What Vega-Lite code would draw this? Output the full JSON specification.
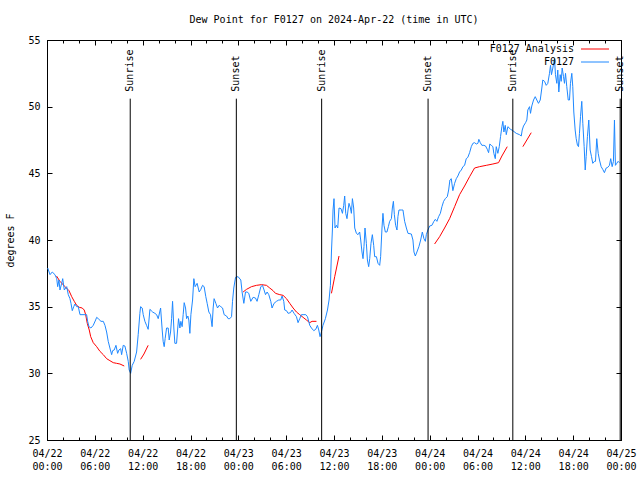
{
  "$schema": "https://vega.github.io/schema/vega-lite/v6.json",
  "width": 574,
  "height": 400,
  "autosize": "none",
  "padding": {"left": 47, "top": 40, "right": 19, "bottom": 40},
  "background": "white",
  "title": {"text": "Dew Point for F0127 on 2024-Apr-22 (time in UTC)", "font": "DejaVu Sans Mono", "fontSize": 10, "fontWeight": "normal", "offset": 10, "anchor": "middle", "color": "black"},
  "config": {
    "font": "DejaVu Sans Mono",
    "view": {"stroke": "black", "strokeWidth": 1},
    "axis": {"grid": false, "domainColor": "black", "domainWidth": 1, "tickColor": "black", "tickWidth": 1, "labelColor": "black", "labelFont": "DejaVu Sans Mono", "labelFontSize": 10, "titleFont": "DejaVu Sans Mono", "titleFontSize": 10, "titleFontWeight": "normal", "titleColor": "black", "labelFlush": false, "labelOverlap": false}
  },
  "datasets": {
    "red": [
      {"series": "F0127 Analysis", "seg": 1, "h": 1.19, "v": 37.3},
      {"series": "F0127 Analysis", "seg": 1, "h": 1.63, "v": 36.9},
      {"series": "F0127 Analysis", "seg": 1, "h": 2.26, "v": 36.5},
      {"series": "F0127 Analysis", "seg": 1, "h": 2.76, "v": 36.2},
      {"series": "F0127 Analysis", "seg": 1, "h": 3.1, "v": 35.75},
      {"series": "F0127 Analysis", "seg": 1, "h": 3.42, "v": 35.4},
      {"series": "F0127 Analysis", "seg": 1, "h": 3.72, "v": 35.1},
      {"series": "F0127 Analysis", "seg": 1, "h": 4.05, "v": 34.95},
      {"series": "F0127 Analysis", "seg": 1, "h": 4.42, "v": 34.9},
      {"series": "F0127 Analysis", "seg": 1, "h": 4.67, "v": 34.75},
      {"series": "F0127 Analysis", "seg": 1, "h": 4.85, "v": 34.4},
      {"series": "F0127 Analysis", "seg": 1, "h": 5.05, "v": 33.75},
      {"series": "F0127 Analysis", "seg": 1, "h": 5.3, "v": 33.25},
      {"series": "F0127 Analysis", "seg": 1, "h": 5.48, "v": 32.75},
      {"series": "F0127 Analysis", "seg": 1, "h": 5.8, "v": 32.3},
      {"series": "F0127 Analysis", "seg": 1, "h": 6.23, "v": 32.0},
      {"series": "F0127 Analysis", "seg": 1, "h": 6.64, "v": 31.65},
      {"series": "F0127 Analysis", "seg": 1, "h": 7.06, "v": 31.4},
      {"series": "F0127 Analysis", "seg": 1, "h": 7.48, "v": 31.1},
      {"series": "F0127 Analysis", "seg": 1, "h": 7.89, "v": 30.95},
      {"series": "F0127 Analysis", "seg": 1, "h": 8.31, "v": 30.8},
      {"series": "F0127 Analysis", "seg": 1, "h": 8.73, "v": 30.75},
      {"series": "F0127 Analysis", "seg": 1, "h": 9.15, "v": 30.7},
      {"series": "F0127 Analysis", "seg": 1, "h": 9.69, "v": 30.55},
      {"series": "F0127 Analysis", "seg": 2, "h": 11.74, "v": 31.05},
      {"series": "F0127 Analysis", "seg": 2, "h": 12.16, "v": 31.45},
      {"series": "F0127 Analysis", "seg": 2, "h": 12.69, "v": 32.1},
      {"series": "F0127 Analysis", "seg": 3, "h": 24.6, "v": 36.1},
      {"series": "F0127 Analysis", "seg": 3, "h": 25.03, "v": 36.3},
      {"series": "F0127 Analysis", "seg": 3, "h": 25.65, "v": 36.5},
      {"series": "F0127 Analysis", "seg": 3, "h": 26.28, "v": 36.6},
      {"series": "F0127 Analysis", "seg": 3, "h": 26.9, "v": 36.65},
      {"series": "F0127 Analysis", "seg": 3, "h": 27.53, "v": 36.6},
      {"series": "F0127 Analysis", "seg": 3, "h": 27.94, "v": 36.4},
      {"series": "F0127 Analysis", "seg": 3, "h": 28.36, "v": 36.2},
      {"series": "F0127 Analysis", "seg": 3, "h": 28.66, "v": 36.0},
      {"series": "F0127 Analysis", "seg": 3, "h": 29.2, "v": 35.9},
      {"series": "F0127 Analysis", "seg": 3, "h": 29.61, "v": 35.85},
      {"series": "F0127 Analysis", "seg": 3, "h": 30.04, "v": 35.6},
      {"series": "F0127 Analysis", "seg": 3, "h": 30.45, "v": 35.25},
      {"series": "F0127 Analysis", "seg": 3, "h": 30.87, "v": 34.9},
      {"series": "F0127 Analysis", "seg": 3, "h": 31.29, "v": 34.6},
      {"series": "F0127 Analysis", "seg": 3, "h": 31.7, "v": 34.4},
      {"series": "F0127 Analysis", "seg": 3, "h": 32.12, "v": 34.2},
      {"series": "F0127 Analysis", "seg": 3, "h": 32.54, "v": 34.0},
      {"series": "F0127 Analysis", "seg": 3, "h": 32.96, "v": 33.8},
      {"series": "F0127 Analysis", "seg": 3, "h": 33.25, "v": 33.9},
      {"series": "F0127 Analysis", "seg": 3, "h": 33.8, "v": 33.9},
      {"series": "F0127 Analysis", "seg": 4, "h": 35.68, "v": 36.0},
      {"series": "F0127 Analysis", "seg": 4, "h": 36.09, "v": 37.25},
      {"series": "F0127 Analysis", "seg": 4, "h": 36.63, "v": 38.8},
      {"series": "F0127 Analysis", "seg": 5, "h": 48.62, "v": 39.7},
      {"series": "F0127 Analysis", "seg": 5, "h": 49.25, "v": 40.25},
      {"series": "F0127 Analysis", "seg": 5, "h": 49.87, "v": 40.9},
      {"series": "F0127 Analysis", "seg": 5, "h": 50.5, "v": 41.6},
      {"series": "F0127 Analysis", "seg": 5, "h": 51.13, "v": 42.5},
      {"series": "F0127 Analysis", "seg": 5, "h": 51.75, "v": 43.4},
      {"series": "F0127 Analysis", "seg": 5, "h": 52.38, "v": 44.05},
      {"series": "F0127 Analysis", "seg": 5, "h": 53.01, "v": 44.75},
      {"series": "F0127 Analysis", "seg": 5, "h": 53.63, "v": 45.4},
      {"series": "F0127 Analysis", "seg": 5, "h": 54.26, "v": 45.5},
      {"series": "F0127 Analysis", "seg": 5, "h": 55.1, "v": 45.6},
      {"series": "F0127 Analysis", "seg": 5, "h": 55.93, "v": 45.7},
      {"series": "F0127 Analysis", "seg": 5, "h": 56.64, "v": 45.8},
      {"series": "F0127 Analysis", "seg": 5, "h": 57.06, "v": 46.3},
      {"series": "F0127 Analysis", "seg": 5, "h": 57.73, "v": 47.0},
      {"series": "F0127 Analysis", "seg": 6, "h": 59.69, "v": 47.0},
      {"series": "F0127 Analysis", "seg": 6, "h": 60.74, "v": 48.05}
    ],
    "blue": [
      {"series": "F0127", "h": 0.09, "v": 37.9},
      {"series": "F0127", "h": 0.38, "v": 37.4},
      {"series": "F0127", "h": 0.66, "v": 37.6},
      {"series": "F0127", "h": 1.0, "v": 37.4},
      {"series": "F0127", "h": 1.22, "v": 37.1},
      {"series": "F0127", "h": 1.34, "v": 36.5},
      {"series": "F0127", "h": 1.5, "v": 37.0},
      {"series": "F0127", "h": 1.63, "v": 36.25},
      {"series": "F0127", "h": 1.84, "v": 36.75},
      {"series": "F0127", "h": 1.97, "v": 37.1},
      {"series": "F0127", "h": 2.17, "v": 36.25},
      {"series": "F0127", "h": 2.34, "v": 36.4},
      {"series": "F0127", "h": 2.47, "v": 36.5},
      {"series": "F0127", "h": 2.67, "v": 35.9},
      {"series": "F0127", "h": 2.88, "v": 35.6},
      {"series": "F0127", "h": 3.01, "v": 35.25},
      {"series": "F0127", "h": 3.17, "v": 34.7},
      {"series": "F0127", "h": 3.35, "v": 35.0},
      {"series": "F0127", "h": 3.51, "v": 35.2},
      {"series": "F0127", "h": 3.72, "v": 35.0},
      {"series": "F0127", "h": 3.92, "v": 35.0},
      {"series": "F0127", "h": 4.14, "v": 34.4},
      {"series": "F0127", "h": 4.76, "v": 34.4},
      {"series": "F0127", "h": 4.97, "v": 34.4},
      {"series": "F0127", "h": 5.1, "v": 33.9},
      {"series": "F0127", "h": 5.26, "v": 33.5},
      {"series": "F0127", "h": 5.51, "v": 33.4},
      {"series": "F0127", "h": 5.8, "v": 33.6},
      {"series": "F0127", "h": 6.1, "v": 34.0},
      {"series": "F0127", "h": 6.23, "v": 34.2},
      {"series": "F0127", "h": 6.43, "v": 34.1},
      {"series": "F0127", "h": 6.77, "v": 33.9},
      {"series": "F0127", "h": 7.06, "v": 33.9},
      {"series": "F0127", "h": 7.27, "v": 33.6},
      {"series": "F0127", "h": 7.48, "v": 33.1},
      {"series": "F0127", "h": 7.68, "v": 32.4},
      {"series": "F0127", "h": 7.89, "v": 31.9},
      {"series": "F0127", "h": 8.11, "v": 31.4},
      {"series": "F0127", "h": 8.23, "v": 31.7},
      {"series": "F0127", "h": 8.43, "v": 31.75},
      {"series": "F0127", "h": 8.65, "v": 32.1},
      {"series": "F0127", "h": 8.86, "v": 31.5},
      {"series": "F0127", "h": 9.02, "v": 31.75},
      {"series": "F0127", "h": 9.24, "v": 31.85},
      {"series": "F0127", "h": 9.36, "v": 31.4},
      {"series": "F0127", "h": 9.56, "v": 32.1},
      {"series": "F0127", "h": 9.77, "v": 32.05},
      {"series": "F0127", "h": 9.99, "v": 31.5},
      {"series": "F0127", "h": 10.19, "v": 30.9},
      {"series": "F0127", "h": 10.31, "v": 30.25},
      {"series": "F0127", "h": 10.49, "v": 30.0},
      {"series": "F0127", "h": 10.69, "v": 30.6},
      {"series": "F0127", "h": 10.94, "v": 30.9},
      {"series": "F0127", "h": 11.24, "v": 31.6},
      {"series": "F0127", "h": 11.44, "v": 32.9},
      {"series": "F0127", "h": 11.65, "v": 34.5},
      {"series": "F0127", "h": 11.74, "v": 35.0},
      {"series": "F0127", "h": 11.94, "v": 34.9},
      {"series": "F0127", "h": 12.07, "v": 34.4},
      {"series": "F0127", "h": 12.28, "v": 33.9},
      {"series": "F0127", "h": 12.49, "v": 33.6},
      {"series": "F0127", "h": 12.69, "v": 33.3},
      {"series": "F0127", "h": 12.91, "v": 34.8},
      {"series": "F0127", "h": 13.25, "v": 34.6},
      {"series": "F0127", "h": 13.53, "v": 34.5},
      {"series": "F0127", "h": 13.75, "v": 34.4},
      {"series": "F0127", "h": 13.95, "v": 34.1},
      {"series": "F0127", "h": 14.25, "v": 34.9},
      {"series": "F0127", "h": 14.45, "v": 33.25},
      {"series": "F0127", "h": 14.57, "v": 32.4},
      {"series": "F0127", "h": 14.7, "v": 32.0},
      {"series": "F0127", "h": 14.82, "v": 32.6},
      {"series": "F0127", "h": 15.0, "v": 33.4},
      {"series": "F0127", "h": 15.2, "v": 33.4},
      {"series": "F0127", "h": 15.33, "v": 32.5},
      {"series": "F0127", "h": 15.5, "v": 33.1},
      {"series": "F0127", "h": 15.63, "v": 34.1},
      {"series": "F0127", "h": 15.75, "v": 35.4},
      {"series": "F0127", "h": 15.91, "v": 33.4},
      {"series": "F0127", "h": 16.04, "v": 32.25},
      {"series": "F0127", "h": 16.25, "v": 32.25},
      {"series": "F0127", "h": 16.38, "v": 33.25},
      {"series": "F0127", "h": 16.5, "v": 34.1},
      {"series": "F0127", "h": 16.67, "v": 33.4},
      {"series": "F0127", "h": 16.79, "v": 33.9},
      {"series": "F0127", "h": 16.95, "v": 33.5},
      {"series": "F0127", "h": 17.08, "v": 34.4},
      {"series": "F0127", "h": 17.21, "v": 35.3},
      {"series": "F0127", "h": 17.38, "v": 34.9},
      {"series": "F0127", "h": 17.51, "v": 34.1},
      {"series": "F0127", "h": 17.67, "v": 34.3},
      {"series": "F0127", "h": 17.79, "v": 34.0},
      {"series": "F0127", "h": 17.92, "v": 33.0},
      {"series": "F0127", "h": 18.05, "v": 34.4},
      {"series": "F0127", "h": 18.26, "v": 35.5},
      {"series": "F0127", "h": 18.42, "v": 37.1},
      {"series": "F0127", "h": 18.58, "v": 36.5},
      {"series": "F0127", "h": 18.83, "v": 36.75},
      {"series": "F0127", "h": 19.09, "v": 36.1},
      {"series": "F0127", "h": 19.3, "v": 36.3},
      {"series": "F0127", "h": 19.51, "v": 36.6},
      {"series": "F0127", "h": 19.71, "v": 36.5},
      {"series": "F0127", "h": 19.92, "v": 35.75},
      {"series": "F0127", "h": 20.09, "v": 35.25},
      {"series": "F0127", "h": 20.3, "v": 34.6},
      {"series": "F0127", "h": 20.51, "v": 34.4},
      {"series": "F0127", "h": 20.71, "v": 33.5},
      {"series": "F0127", "h": 20.84, "v": 34.9},
      {"series": "F0127", "h": 20.96, "v": 35.6},
      {"series": "F0127", "h": 21.18, "v": 35.25},
      {"series": "F0127", "h": 21.39, "v": 34.9},
      {"series": "F0127", "h": 21.59, "v": 35.1},
      {"series": "F0127", "h": 21.8, "v": 35.0},
      {"series": "F0127", "h": 22.02, "v": 34.9},
      {"series": "F0127", "h": 22.22, "v": 34.4},
      {"series": "F0127", "h": 22.52, "v": 34.3},
      {"series": "F0127", "h": 22.72, "v": 34.1},
      {"series": "F0127", "h": 22.93, "v": 34.1},
      {"series": "F0127", "h": 23.15, "v": 34.25},
      {"series": "F0127", "h": 23.27, "v": 35.4},
      {"series": "F0127", "h": 23.43, "v": 36.4},
      {"series": "F0127", "h": 23.65, "v": 37.2},
      {"series": "F0127", "h": 23.97, "v": 37.25},
      {"series": "F0127", "h": 24.31, "v": 37.0},
      {"series": "F0127", "h": 24.47, "v": 36.1},
      {"series": "F0127", "h": 24.69, "v": 35.25},
      {"series": "F0127", "h": 24.9, "v": 36.1},
      {"series": "F0127", "h": 25.1, "v": 36.1},
      {"series": "F0127", "h": 25.31, "v": 36.0},
      {"series": "F0127", "h": 25.56, "v": 35.4},
      {"series": "F0127", "h": 25.85, "v": 35.7},
      {"series": "F0127", "h": 26.15, "v": 35.65},
      {"series": "F0127", "h": 26.35, "v": 35.4},
      {"series": "F0127", "h": 26.57, "v": 35.9},
      {"series": "F0127", "h": 26.82, "v": 36.5},
      {"series": "F0127", "h": 27.03, "v": 36.6},
      {"series": "F0127", "h": 27.23, "v": 36.25},
      {"series": "F0127", "h": 27.41, "v": 35.9},
      {"series": "F0127", "h": 27.61, "v": 36.1},
      {"series": "F0127", "h": 27.82, "v": 35.9},
      {"series": "F0127", "h": 28.07, "v": 35.4},
      {"series": "F0127", "h": 28.23, "v": 34.9},
      {"series": "F0127", "h": 28.48, "v": 35.25},
      {"series": "F0127", "h": 28.78, "v": 35.4},
      {"series": "F0127", "h": 29.07, "v": 35.5},
      {"series": "F0127", "h": 29.32, "v": 35.5},
      {"series": "F0127", "h": 29.49, "v": 35.8},
      {"series": "F0127", "h": 29.7, "v": 35.4},
      {"series": "F0127", "h": 29.82, "v": 34.75},
      {"series": "F0127", "h": 30.04, "v": 34.7},
      {"series": "F0127", "h": 30.24, "v": 34.5},
      {"series": "F0127", "h": 30.54, "v": 34.55},
      {"series": "F0127", "h": 30.74, "v": 34.75},
      {"series": "F0127", "h": 30.99, "v": 34.5},
      {"series": "F0127", "h": 31.29, "v": 34.25},
      {"series": "F0127", "h": 31.49, "v": 33.8},
      {"series": "F0127", "h": 31.7, "v": 34.1},
      {"series": "F0127", "h": 31.92, "v": 34.4},
      {"series": "F0127", "h": 32.12, "v": 34.4},
      {"series": "F0127", "h": 32.46, "v": 34.4},
      {"series": "F0127", "h": 32.67, "v": 34.25},
      {"series": "F0127", "h": 32.83, "v": 33.9},
      {"series": "F0127", "h": 32.96, "v": 33.6},
      {"series": "F0127", "h": 33.17, "v": 33.4},
      {"series": "F0127", "h": 33.46, "v": 33.2},
      {"series": "F0127", "h": 33.71, "v": 33.3},
      {"series": "F0127", "h": 33.92, "v": 33.6},
      {"series": "F0127", "h": 34.09, "v": 33.25},
      {"series": "F0127", "h": 34.25, "v": 32.75},
      {"series": "F0127", "h": 34.42, "v": 33.1},
      {"series": "F0127", "h": 34.62, "v": 33.6},
      {"series": "F0127", "h": 34.92, "v": 34.1},
      {"series": "F0127", "h": 35.18, "v": 34.75},
      {"series": "F0127", "h": 35.38, "v": 35.5},
      {"series": "F0127", "h": 35.55, "v": 36.6},
      {"series": "F0127", "h": 35.68, "v": 39.1},
      {"series": "F0127", "h": 35.8, "v": 40.75},
      {"series": "F0127", "h": 35.88, "v": 42.25},
      {"series": "F0127", "h": 36.0, "v": 43.1},
      {"series": "F0127", "h": 36.13, "v": 40.9},
      {"series": "F0127", "h": 36.3, "v": 41.1},
      {"series": "F0127", "h": 36.47, "v": 40.9},
      {"series": "F0127", "h": 36.63, "v": 42.4},
      {"series": "F0127", "h": 36.88, "v": 42.35},
      {"series": "F0127", "h": 37.06, "v": 42.0},
      {"series": "F0127", "h": 37.22, "v": 42.6},
      {"series": "F0127", "h": 37.34, "v": 43.3},
      {"series": "F0127", "h": 37.47, "v": 42.0},
      {"series": "F0127", "h": 37.63, "v": 41.6},
      {"series": "F0127", "h": 37.76, "v": 42.25},
      {"series": "F0127", "h": 37.88, "v": 42.75},
      {"series": "F0127", "h": 38.06, "v": 42.4},
      {"series": "F0127", "h": 38.18, "v": 42.0},
      {"series": "F0127", "h": 38.31, "v": 43.1},
      {"series": "F0127", "h": 38.47, "v": 42.4},
      {"series": "F0127", "h": 38.6, "v": 40.9},
      {"series": "F0127", "h": 38.81, "v": 40.5},
      {"series": "F0127", "h": 39.01, "v": 40.4},
      {"series": "F0127", "h": 39.22, "v": 40.6},
      {"series": "F0127", "h": 39.35, "v": 40.0},
      {"series": "F0127", "h": 39.51, "v": 39.1},
      {"series": "F0127", "h": 39.64, "v": 38.6},
      {"series": "F0127", "h": 39.76, "v": 39.5},
      {"series": "F0127", "h": 39.89, "v": 40.9},
      {"series": "F0127", "h": 40.06, "v": 39.75},
      {"series": "F0127", "h": 40.19, "v": 38.5},
      {"series": "F0127", "h": 40.35, "v": 38.0},
      {"series": "F0127", "h": 40.48, "v": 38.6},
      {"series": "F0127", "h": 40.64, "v": 39.75},
      {"series": "F0127", "h": 40.81, "v": 40.4},
      {"series": "F0127", "h": 40.98, "v": 39.6},
      {"series": "F0127", "h": 41.1, "v": 38.75},
      {"series": "F0127", "h": 41.32, "v": 38.75},
      {"series": "F0127", "h": 41.52, "v": 38.25},
      {"series": "F0127", "h": 41.73, "v": 38.1},
      {"series": "F0127", "h": 41.85, "v": 38.75},
      {"series": "F0127", "h": 42.02, "v": 40.9},
      {"series": "F0127", "h": 42.14, "v": 42.0},
      {"series": "F0127", "h": 42.27, "v": 41.1},
      {"series": "F0127", "h": 42.44, "v": 40.6},
      {"series": "F0127", "h": 42.64, "v": 40.6},
      {"series": "F0127", "h": 42.82, "v": 41.0},
      {"series": "F0127", "h": 42.98, "v": 41.4},
      {"series": "F0127", "h": 43.2, "v": 41.6},
      {"series": "F0127", "h": 43.32, "v": 42.4},
      {"series": "F0127", "h": 43.45, "v": 42.9},
      {"series": "F0127", "h": 43.57, "v": 41.9},
      {"series": "F0127", "h": 43.73, "v": 41.1},
      {"series": "F0127", "h": 43.9, "v": 40.75},
      {"series": "F0127", "h": 44.02, "v": 41.75},
      {"series": "F0127", "h": 44.15, "v": 42.25},
      {"series": "F0127", "h": 44.45, "v": 42.25},
      {"series": "F0127", "h": 44.65, "v": 42.25},
      {"series": "F0127", "h": 44.86, "v": 41.4},
      {"series": "F0127", "h": 45.08, "v": 40.9},
      {"series": "F0127", "h": 45.28, "v": 40.5},
      {"series": "F0127", "h": 45.7, "v": 40.45},
      {"series": "F0127", "h": 45.9, "v": 40.0},
      {"series": "F0127", "h": 46.03, "v": 39.1},
      {"series": "F0127", "h": 46.2, "v": 38.8},
      {"series": "F0127", "h": 46.4, "v": 39.1},
      {"series": "F0127", "h": 46.65, "v": 39.5},
      {"series": "F0127", "h": 46.87, "v": 40.0},
      {"series": "F0127", "h": 47.08, "v": 40.6},
      {"series": "F0127", "h": 47.28, "v": 40.1},
      {"series": "F0127", "h": 47.46, "v": 39.9},
      {"series": "F0127", "h": 47.58, "v": 40.4},
      {"series": "F0127", "h": 47.78, "v": 40.75},
      {"series": "F0127", "h": 48.0, "v": 41.05},
      {"series": "F0127", "h": 48.28, "v": 41.1},
      {"series": "F0127", "h": 48.53, "v": 41.4},
      {"series": "F0127", "h": 48.71, "v": 41.55},
      {"series": "F0127", "h": 48.91, "v": 41.4},
      {"series": "F0127", "h": 49.12, "v": 41.75},
      {"series": "F0127", "h": 49.34, "v": 42.0},
      {"series": "F0127", "h": 49.54, "v": 42.5},
      {"series": "F0127", "h": 49.75, "v": 42.9},
      {"series": "F0127", "h": 49.96, "v": 43.1},
      {"series": "F0127", "h": 50.21, "v": 43.25},
      {"series": "F0127", "h": 50.38, "v": 43.75},
      {"series": "F0127", "h": 50.54, "v": 44.5},
      {"series": "F0127", "h": 50.71, "v": 44.6},
      {"series": "F0127", "h": 50.91, "v": 43.7},
      {"series": "F0127", "h": 51.13, "v": 44.25},
      {"series": "F0127", "h": 51.34, "v": 44.6},
      {"series": "F0127", "h": 51.54, "v": 44.8},
      {"series": "F0127", "h": 51.75, "v": 45.1},
      {"series": "F0127", "h": 51.97, "v": 45.25},
      {"series": "F0127", "h": 52.17, "v": 45.5},
      {"series": "F0127", "h": 52.38, "v": 45.6},
      {"series": "F0127", "h": 52.59, "v": 46.1},
      {"series": "F0127", "h": 52.79, "v": 46.2},
      {"series": "F0127", "h": 53.01, "v": 46.55},
      {"series": "F0127", "h": 53.22, "v": 47.0},
      {"series": "F0127", "h": 53.42, "v": 47.25},
      {"series": "F0127", "h": 53.63, "v": 47.3},
      {"series": "F0127", "h": 53.85, "v": 47.2},
      {"series": "F0127", "h": 54.05, "v": 47.25},
      {"series": "F0127", "h": 54.17, "v": 47.55},
      {"series": "F0127", "h": 54.35, "v": 47.3},
      {"series": "F0127", "h": 54.55, "v": 47.1},
      {"series": "F0127", "h": 54.8, "v": 47.1},
      {"series": "F0127", "h": 55.01, "v": 47.05},
      {"series": "F0127", "h": 55.23, "v": 46.8},
      {"series": "F0127", "h": 55.39, "v": 46.55},
      {"series": "F0127", "h": 55.55, "v": 47.2},
      {"series": "F0127", "h": 55.73, "v": 47.1},
      {"series": "F0127", "h": 55.93, "v": 47.0},
      {"series": "F0127", "h": 56.05, "v": 46.5},
      {"series": "F0127", "h": 56.23, "v": 46.1},
      {"series": "F0127", "h": 56.35, "v": 47.0},
      {"series": "F0127", "h": 56.55, "v": 46.5},
      {"series": "F0127", "h": 56.73, "v": 47.0},
      {"series": "F0127", "h": 56.89, "v": 47.75},
      {"series": "F0127", "h": 57.06, "v": 48.5},
      {"series": "F0127", "h": 57.18, "v": 48.9},
      {"series": "F0127", "h": 57.31, "v": 48.1},
      {"series": "F0127", "h": 57.48, "v": 48.6},
      {"series": "F0127", "h": 57.61, "v": 47.9},
      {"series": "F0127", "h": 57.81, "v": 48.5},
      {"series": "F0127", "h": 58.15, "v": 48.3},
      {"series": "F0127", "h": 58.43, "v": 48.2},
      {"series": "F0127", "h": 58.86, "v": 48.0},
      {"series": "F0127", "h": 59.27, "v": 47.9},
      {"series": "F0127", "h": 59.49, "v": 47.8},
      {"series": "F0127", "h": 59.61, "v": 48.25},
      {"series": "F0127", "h": 59.77, "v": 48.55},
      {"series": "F0127", "h": 60.03, "v": 48.8},
      {"series": "F0127", "h": 60.19, "v": 49.0},
      {"series": "F0127", "h": 60.31, "v": 49.75},
      {"series": "F0127", "h": 60.53, "v": 50.0},
      {"series": "F0127", "h": 60.65, "v": 49.5},
      {"series": "F0127", "h": 60.81, "v": 50.05},
      {"series": "F0127", "h": 61.03, "v": 50.5},
      {"series": "F0127", "h": 61.24, "v": 50.75},
      {"series": "F0127", "h": 61.44, "v": 50.5},
      {"series": "F0127", "h": 61.65, "v": 50.25},
      {"series": "F0127", "h": 61.87, "v": 50.5},
      {"series": "F0127", "h": 62.07, "v": 51.4},
      {"series": "F0127", "h": 62.19, "v": 52.0},
      {"series": "F0127", "h": 62.41, "v": 51.9},
      {"series": "F0127", "h": 62.62, "v": 51.6},
      {"series": "F0127", "h": 62.82, "v": 51.75},
      {"series": "F0127", "h": 63.03, "v": 52.5},
      {"series": "F0127", "h": 63.16, "v": 53.1},
      {"series": "F0127", "h": 63.28, "v": 52.4},
      {"series": "F0127", "h": 63.45, "v": 52.9},
      {"series": "F0127", "h": 63.66, "v": 53.6},
      {"series": "F0127", "h": 63.78, "v": 52.4},
      {"series": "F0127", "h": 63.95, "v": 51.75},
      {"series": "F0127", "h": 64.07, "v": 52.75},
      {"series": "F0127", "h": 64.2, "v": 51.1},
      {"series": "F0127", "h": 64.37, "v": 52.4},
      {"series": "F0127", "h": 64.5, "v": 51.9},
      {"series": "F0127", "h": 64.62, "v": 52.9},
      {"series": "F0127", "h": 64.79, "v": 52.25},
      {"series": "F0127", "h": 64.91, "v": 51.75},
      {"series": "F0127", "h": 65.04, "v": 52.5},
      {"series": "F0127", "h": 65.2, "v": 51.5},
      {"series": "F0127", "h": 65.38, "v": 50.5},
      {"series": "F0127", "h": 65.54, "v": 50.5},
      {"series": "F0127", "h": 65.66, "v": 51.75},
      {"series": "F0127", "h": 65.83, "v": 52.5},
      {"series": "F0127", "h": 65.95, "v": 51.5},
      {"series": "F0127", "h": 66.08, "v": 49.6},
      {"series": "F0127", "h": 66.25, "v": 48.25},
      {"series": "F0127", "h": 66.38, "v": 47.6},
      {"series": "F0127", "h": 66.54, "v": 47.1},
      {"series": "F0127", "h": 66.67, "v": 47.0},
      {"series": "F0127", "h": 66.79, "v": 48.0},
      {"series": "F0127", "h": 66.92, "v": 49.25},
      {"series": "F0127", "h": 67.08, "v": 50.4},
      {"series": "F0127", "h": 67.21, "v": 48.75},
      {"series": "F0127", "h": 67.38, "v": 47.0},
      {"series": "F0127", "h": 67.51, "v": 45.25},
      {"series": "F0127", "h": 67.63, "v": 46.25},
      {"series": "F0127", "h": 67.79, "v": 47.75},
      {"series": "F0127", "h": 67.96, "v": 49.0},
      {"series": "F0127", "h": 68.13, "v": 46.75},
      {"series": "F0127", "h": 68.3, "v": 46.25},
      {"series": "F0127", "h": 68.46, "v": 45.75},
      {"series": "F0127", "h": 68.67, "v": 45.9},
      {"series": "F0127", "h": 68.8, "v": 45.9},
      {"series": "F0127", "h": 68.96, "v": 47.6},
      {"series": "F0127", "h": 69.14, "v": 46.5},
      {"series": "F0127", "h": 69.3, "v": 46.0},
      {"series": "F0127", "h": 69.51, "v": 45.5},
      {"series": "F0127", "h": 69.71, "v": 45.3},
      {"series": "F0127", "h": 69.92, "v": 45.05},
      {"series": "F0127", "h": 70.14, "v": 45.4},
      {"series": "F0127", "h": 70.34, "v": 45.45},
      {"series": "F0127", "h": 70.55, "v": 45.6},
      {"series": "F0127", "h": 70.71, "v": 46.1},
      {"series": "F0127", "h": 70.89, "v": 45.5},
      {"series": "F0127", "h": 71.05, "v": 45.9},
      {"series": "F0127", "h": 71.18, "v": 49.0},
      {"series": "F0127", "h": 71.3, "v": 45.6},
      {"series": "F0127", "h": 71.47, "v": 45.75},
      {"series": "F0127", "h": 71.64, "v": 45.9},
      {"series": "F0127", "h": 71.8, "v": 45.8}
    ],
    "events": [
      {"h": 10.44, "label": "Sunrise"},
      {"h": 23.75, "label": "Sunset"},
      {"h": 34.45, "label": "Sunrise"},
      {"h": 47.8, "label": "Sunset"},
      {"h": 58.43, "label": "Sunrise"},
      {"h": 71.9, "label": "Sunset"}
    ]
  },
  "layer": [
    {
      "data": {"name": "red"},
      "mark": {"type": "line", "strokeWidth": 1},
      "encoding": {
        "x": {"field": "h", "type": "quantitative", "scale": {"domain": [0, 72], "nice": false, "zero": false},
          "axis": {"orient": "top", "values": [0, 6, 12, 18, 24, 30, 36, 42, 48, 54, 60, 66, 72], "labels": false, "tickSize": -5, "title": null}},
        "y": {"field": "v", "type": "quantitative", "scale": {"domain": [25, 55], "nice": false, "zero": false},
          "axis": {"orient": "right", "values": [25, 30, 35, 40, 45, 50, 55], "labels": false, "tickSize": -5, "title": null}},
        "color": {"field": "series", "type": "nominal",
          "scale": {"domain": ["F0127 Analysis", "F0127"], "range": ["#ff0000", "#1e88ff"]},
          "legend": {"orient": "none", "legendX": 543, "legendY": 4, "title": null, "symbolType": "M-3.5,0H3.5", "symbolSize": 64, "symbolStrokeWidth": 1, "labelAlign": "right", "labelOffset": -26, "labelFont": "DejaVu Sans Mono", "labelFontSize": 10, "labelColor": "black", "rowPadding": 3, "padding": 0}},
        "detail": {"field": "seg", "type": "nominal"}
      }
    },
    {
      "data": {"name": "blue"},
      "mark": {"type": "line", "strokeWidth": 1},
      "encoding": {
        "x": {"field": "h", "type": "quantitative", "scale": {"domain": [0, 72], "nice": false, "zero": false},
          "axis": {"orient": "bottom", "values": [0, 6, 12, 18, 24, 30, 36, 42, 48, 54, 60, 66, 72], "tickSize": -5, "labelPadding": 13, "labelLineHeight": 13, "labelBaseline": "top",
            "labelExpr": "[utcFormat(utc(2024,3,22)+datum.value*3600000,'%m/%d'), utcFormat(utc(2024,3,22)+datum.value*3600000,'%H:%M')]", "title": null}},
        "y": {"field": "v", "type": "quantitative", "scale": {"domain": [25, 55], "nice": false, "zero": false},
          "axis": {"orient": "left", "values": [25, 30, 35, 40, 45, 50, 55], "tickSize": -5, "labelPadding": 12, "title": "degrees F", "titlePadding": 12}},
        "color": {"field": "series", "type": "nominal",
          "scale": {"domain": ["F0127 Analysis", "F0127"], "range": ["#ff0000", "#1e88ff"]}}
      }
    },
    {
      "data": {"name": "events"},
      "mark": {"type": "rule", "color": "black", "strokeWidth": 1},
      "encoding": {
        "x": {"field": "h", "type": "quantitative", "scale": {"domain": [0, 72], "nice": false, "zero": false},
          "axis": {"orient": "bottom", "values": [2, 4, 8, 10, 14, 16, 20, 22, 26, 28, 32, 34, 38, 40, 44, 46, 50, 52, 56, 58, 62, 64, 68, 70], "labels": false, "domain": false, "tickSize": -3, "title": null}},
        "y": {"datum": 50.6, "type": "quantitative", "axis": null},
        "y2": {"datum": 25}
      }
    },
    {
      "data": {"name": "events"},
      "mark": {"type": "text", "angle": 270, "align": "left", "baseline": "middle", "dx": 7, "font": "DejaVu Sans Mono", "fontSize": 10, "color": "black"},
      "encoding": {
        "x": {"field": "h", "type": "quantitative", "scale": {"domain": [0, 72], "nice": false, "zero": false},
          "axis": {"orient": "top", "values": [2, 4, 8, 10, 14, 16, 20, 22, 26, 28, 32, 34, 38, 40, 44, 46, 50, 52, 56, 58, 62, 64, 68, 70], "labels": false, "domain": false, "tickSize": -3, "title": null}},
        "y": {"datum": 50.6, "type": "quantitative", "axis": null},
        "text": {"field": "label"}
      }
    }
  ],
  "resolve": {"axis": {"x": "independent", "y": "independent"}}
}
